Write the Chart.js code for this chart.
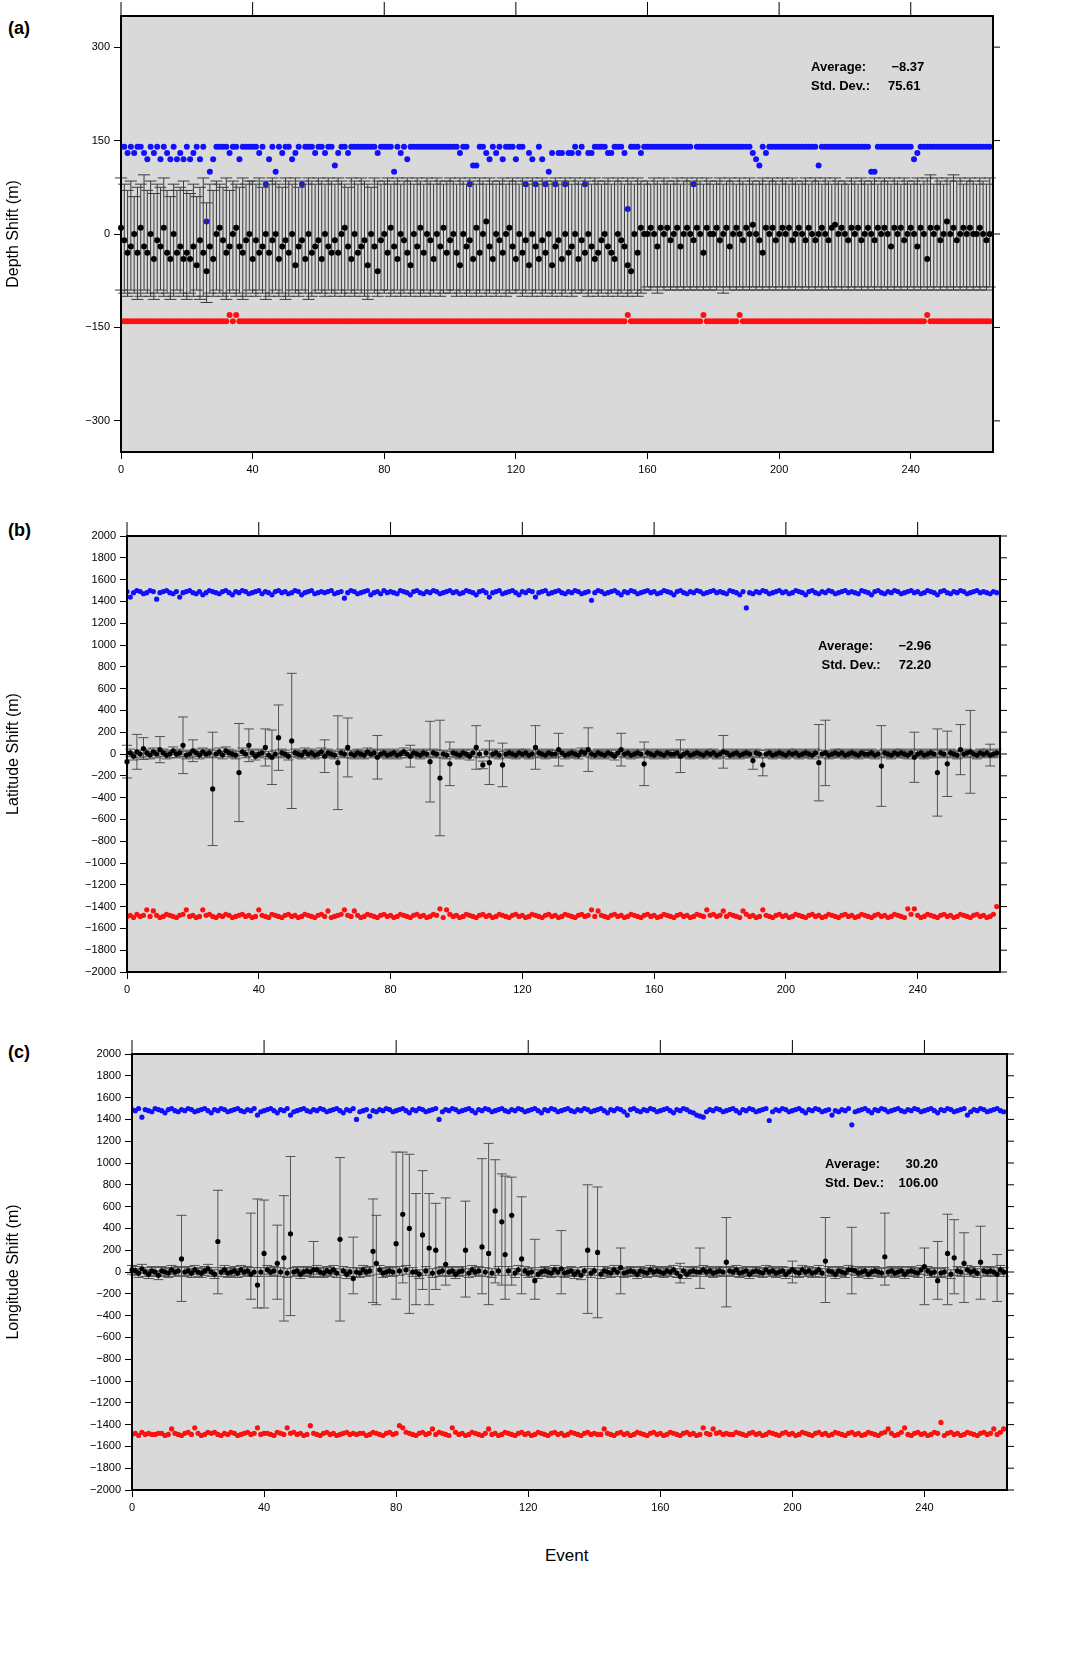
<!DOCTYPE html>
<html>
<head>
<meta charset="utf-8">
<script src="https://cdn.jsdelivr.net/npm/chart.js@4.4.1/dist/chart.umd.min.js"></script>
<style>
  body { margin: 0; background: #fff; font-family: "Liberation Sans", Arial, sans-serif; }
  .panel { position: absolute; left: 0; width: 1074px; height: 495px; }
  .lbl { position: absolute; font-weight: bold; font-size: 18px; }
  .stat { position: absolute; font-weight: bold; font-size: 13px; line-height: 19px; white-space: pre; }
</style>
</head>
<body>
<div class="lbl" style="left:8px;top:18px">(a)</div>
<div class="lbl" style="left:8px;top:520px">(b)</div>
<div class="lbl" style="left:8px;top:1042px">(c)</div>
<div class="panel" style="top:0"><canvas id="chartA"></canvas></div>
<div class="panel" style="top:520px"><canvas id="chartB"></canvas></div>
<div class="panel" style="top:1038px"><canvas id="chartC"></canvas></div>
<div class="stat" style="left:811px;top:57px">Average:       −8.37
Std. Dev.:     75.61</div>
<div class="stat" style="left:818px;top:636px">Average:       −2.96
 Std. Dev.:     72.20</div>
<div class="stat" style="left:825px;top:1154px">Average:       30.20
Std. Dev.:    106.00</div>
<div style="position:absolute;left:545px;top:1546px;font-size:17px">Event</div>
<script>
// ---------- panel (a) depth ----------
const blueA = [
140,140,130,140,130,140,140,130,120,140,130,140,120,140,130,120,140,120,130,120,
140,120,130,140,120,140,20,100,120,140,140,140,140,130,140,140,120,140,140,140,
140,140,130,140,80,120,140,100,140,130,140,140,120,130,140,80,140,140,140,130,
140,140,130,140,140,110,130,140,140,130,140,140,140,140,140,140,140,140,130,140,
140,140,140,100,140,130,140,120,140,140,140,140,140,140,140,140,140,140,140,140,
140,140,140,130,140,140,80,110,110,140,140,130,120,140,130,140,120,140,140,140,
120,140,140,80,130,120,80,140,120,80,100,130,80,130,130,80,130,130,140,130,
140,80,130,130,140,140,140,140,130,130,140,140,140,130,40,140,140,140,130,140,
140,140,140,140,140,140,140,140,140,140,140,140,140,140,80,140,140,140,140,140,
140,140,140,140,140,140,140,140,140,140,140,140,130,120,110,140,130,140,140,140,
140,140,140,140,140,140,140,140,140,140,140,140,110,140,140,140,140,140,140,140,
140,140,140,140,140,140,140,140,100,100,140,140,140,140,140,140,140,140,140,140,
140,120,130,140,140,140,140,140,140,140,140,140,140,140,140,140,140,140,140,140,
140,140,140,140,140];
const redA = [
-140,-140,-140,-140,-140,-140,-140,-140,-140,-140,-140,-140,-140,-140,-140,-140,-140,-140,-140,-140,
-140,-140,-140,-140,-140,-140,-140,-140,-140,-140,-140,-140,-140,-130,-140,-130,-140,-140,-140,-140,
-140,-140,-140,-140,-140,-140,-140,-140,-140,-140,-140,-140,-140,-140,-140,-140,-140,-140,-140,-140,
-140,-140,-140,-140,-140,-140,-140,-140,-140,-140,-140,-140,-140,-140,-140,-140,-140,-140,-140,-140,
-140,-140,-140,-140,-140,-140,-140,-140,-140,-140,-140,-140,-140,-140,-140,-140,-140,-140,-140,-140,
-140,-140,-140,-140,-140,-140,-140,-140,-140,-140,-140,-140,-140,-140,-140,-140,-140,-140,-140,-140,
-140,-140,-140,-140,-140,-140,-140,-140,-140,-140,-140,-140,-140,-140,-140,-140,-140,-140,-140,-140,
-140,-140,-140,-140,-140,-140,-140,-140,-140,-140,-140,-140,-140,-140,-130,-140,-140,-140,-140,-140,
-140,-140,-140,-140,-140,-140,-140,-140,-140,-140,-140,-140,-140,-140,-140,-140,-140,-130,-140,-140,
-140,-140,-140,-140,-140,-140,-140,-140,-130,-140,-140,-140,-140,-140,-140,-140,-140,-140,-140,-140,
-140,-140,-140,-140,-140,-140,-140,-140,-140,-140,-140,-140,-140,-140,-140,-140,-140,-140,-140,-140,
-140,-140,-140,-140,-140,-140,-140,-140,-140,-140,-140,-140,-140,-140,-140,-140,-140,-140,-140,-140,
-140,-140,-140,-140,-140,-130,-140,-140,-140,-140,-140,-140,-140,-140,-140,-140,-140,-140,-140,-140,
-140,-140,-140,-140,-140];
const blackA = [
10,-10,-30,-20,0,-30,10,-20,-30,0,-40,-10,-20,10,-30,-40,0,-30,-20,-40,
-30,-40,-20,-50,-10,-30,-60,-20,-40,0,10,-10,-30,-20,0,10,-20,-30,-10,0,
-40,-10,-30,-20,0,-30,-10,0,-40,-20,-10,-30,0,-50,-20,-10,-40,0,-30,-20,
-10,-40,0,-20,-30,-10,-30,0,10,-20,-40,0,-30,-20,-10,-50,0,-20,-60,-10,
0,-30,10,-20,-40,0,-10,-30,-50,0,-20,10,-30,0,-10,-40,0,-20,10,-30,
-10,0,-30,-50,0,-20,-10,-40,10,-30,0,20,-20,-40,0,-10,-30,0,10,-20,
-40,0,-30,-10,-50,0,-20,-40,-10,-30,0,-50,-20,-10,-40,0,-30,-20,0,-40,
-10,-30,0,-20,-40,-30,-10,0,-20,-30,-40,0,-10,-20,-50,-60,0,-30,10,0,
0,10,0,-20,10,0,10,-10,0,10,-20,0,10,0,-10,10,0,-30,10,0,
0,10,-10,0,10,-20,0,10,0,-10,10,0,15,0,-10,-30,10,0,10,-10,
0,10,0,10,-10,0,10,0,-10,10,0,-10,0,10,0,-10,10,15,0,10,
0,-10,10,0,10,-10,0,10,0,-10,10,0,10,0,-20,10,0,10,-10,0,
10,0,-20,10,0,-40,10,0,10,-10,0,20,0,10,-10,0,10,0,10,0,
0,10,0,-10,0];
const errHiA = [
90,80,70,85,60,75,80,95,70,85,65,80,75,90,70,60,80,70,75,85,
70,65,80,60,75,90,50,80,70,85,80,75,90,70,85,80,75,90,80,85,
85,80,90,75,85,80,90,85,80,75,90,85,80,90,75,85,80,90,85,80,
90,85,80,90,85,80,90,85,80,75,90,85,80,90,85,80,75,90,85,80,
85,90,80,85,90,80,85,90,85,80,90,85,80,90,85,80,90,85,80,85,
90,85,80,90,85,80,90,85,80,90,85,80,90,85,80,85,90,80,85,90,
85,80,90,85,80,90,85,80,90,85,80,85,90,80,85,90,85,80,90,85,
80,90,85,80,90,85,80,85,90,80,85,90,85,80,90,85,80,90,85,80,
85,80,90,85,80,90,85,80,85,90,80,85,90,85,80,90,85,80,90,85,
80,85,90,80,85,90,85,80,90,85,80,90,85,80,85,90,80,85,90,85,
80,90,85,80,90,85,80,85,90,80,85,90,85,80,90,85,80,90,85,80,
85,80,90,85,80,90,85,80,85,90,80,85,90,85,80,90,85,80,90,85,
80,85,90,80,85,90,95,80,90,85,80,90,85,95,85,90,80,85,90,85,
80,90,85,80,90];
const errLoA = [
-90,-95,-100,-90,-95,-105,-100,-90,-95,-100,-105,-95,-90,-100,-95,-105,-100,-90,-95,-100,
-105,-95,-100,-90,-105,-100,-110,-95,-100,-90,-95,-100,-105,-95,-90,-100,-95,-105,-100,-90,
-95,-100,-90,-95,-105,-100,-95,-90,-100,-95,-105,-100,-90,-95,-100,-90,-95,-105,-100,-95,
-90,-95,-100,-90,-95,-100,-90,-95,-100,-90,-95,-100,-90,-95,-100,-105,-90,-95,-100,-90,
-95,-90,-100,-95,-90,-100,-95,-90,-100,-95,-90,-100,-95,-90,-100,-95,-90,-100,-95,-90,
-95,-90,-100,-95,-90,-100,-95,-90,-100,-95,-90,-100,-95,-90,-100,-95,-90,-100,-95,-90,
-95,-90,-100,-95,-90,-100,-95,-90,-100,-95,-90,-100,-95,-90,-100,-95,-90,-100,-95,-90,
-95,-90,-100,-95,-90,-100,-95,-90,-100,-95,-90,-100,-95,-90,-100,-95,-90,-100,-95,-90,
-85,-90,-85,-95,-85,-90,-85,-90,-85,-90,-85,-90,-85,-90,-85,-90,-85,-90,-85,-90,
-85,-90,-85,-95,-85,-90,-85,-90,-85,-90,-85,-90,-85,-90,-85,-90,-85,-90,-85,-90,
-85,-90,-85,-90,-85,-90,-85,-90,-85,-90,-85,-90,-85,-90,-85,-90,-85,-90,-85,-90,
-85,-90,-85,-90,-85,-90,-85,-90,-85,-90,-85,-90,-85,-90,-85,-90,-85,-90,-85,-90,
-85,-90,-85,-90,-85,-90,-85,-90,-85,-90,-85,-90,-85,-90,-85,-90,-85,-90,-85,-90,
-85,-90,-85,-90,-85];

// ---------- panel (b) latitude ----------
const blueB = [
1490,1440,1480,1500,1490,1470,1480,1500,1490,1420,1480,1490,1500,1480,1470,1490,1440,1480,1490,1500,
1480,1470,1490,1460,1480,1500,1490,1480,1470,1490,1500,1480,1460,1490,1480,1500,1490,1470,1480,1490,
1500,1470,1490,1480,1460,1490,1500,1480,1490,1470,1480,1500,1490,1460,1480,1490,1500,1470,1480,1490,
1480,1490,1500,1470,1480,1490,1430,1480,1500,1490,1470,1480,1490,1500,1460,1480,1490,1470,1500,1480,
1490,1480,1470,1500,1490,1480,1460,1490,1500,1480,1470,1490,1480,1500,1490,1470,1480,1490,1500,1480,
1490,1470,1480,1500,1490,1480,1460,1490,1500,1480,1440,1480,1490,1500,1470,1480,1490,1500,1480,1460,
1490,1480,1500,1490,1440,1480,1490,1500,1470,1480,1490,1500,1480,1470,1490,1480,1500,1490,1470,1480,
1490,1410,1480,1500,1490,1470,1480,1490,1500,1480,1460,1490,1480,1500,1490,1470,1480,1490,1500,1480,
1490,1470,1480,1500,1490,1480,1460,1490,1500,1480,1470,1490,1480,1500,1490,1470,1480,1490,1500,1480,
1490,1480,1470,1500,1490,1480,1460,1490,1340,1480,1470,1490,1480,1500,1490,1470,1480,1490,1500,1480,
1490,1470,1480,1500,1490,1480,1460,1490,1500,1480,1470,1490,1480,1500,1490,1470,1480,1490,1500,1480,
1490,1480,1470,1500,1490,1480,1460,1490,1500,1480,1470,1490,1480,1500,1490,1470,1480,1490,1500,1480,
1490,1470,1480,1500,1490,1480,1460,1490,1500,1480,1470,1490,1480,1500,1490,1470,1480,1490,1500,1480,
1490,1480,1470,1490,1480];
const redB = [
-1490,-1480,-1500,-1470,-1490,-1480,-1430,-1490,-1440,-1480,-1500,-1490,-1470,-1480,-1490,-1500,-1480,-1470,-1430,-1490,
-1480,-1500,-1490,-1430,-1480,-1470,-1490,-1500,-1480,-1490,-1470,-1480,-1500,-1490,-1480,-1470,-1490,-1480,-1500,-1490,
-1430,-1480,-1490,-1500,-1470,-1480,-1490,-1500,-1480,-1470,-1490,-1480,-1500,-1490,-1470,-1480,-1490,-1500,-1480,-1470,
-1490,-1440,-1500,-1490,-1480,-1470,-1430,-1480,-1490,-1440,-1480,-1500,-1490,-1470,-1480,-1490,-1500,-1480,-1470,-1490,
-1480,-1500,-1490,-1470,-1480,-1490,-1500,-1480,-1470,-1490,-1480,-1500,-1490,-1470,-1480,-1420,-1500,-1430,-1470,-1490,
-1480,-1500,-1490,-1470,-1480,-1490,-1500,-1480,-1470,-1490,-1480,-1500,-1490,-1470,-1480,-1490,-1500,-1480,-1470,-1490,
-1480,-1500,-1490,-1470,-1480,-1490,-1500,-1480,-1470,-1490,-1480,-1500,-1490,-1470,-1480,-1490,-1500,-1480,-1470,-1490,
-1480,-1430,-1490,-1440,-1480,-1490,-1500,-1480,-1470,-1490,-1480,-1500,-1490,-1470,-1480,-1490,-1500,-1480,-1470,-1490,
-1480,-1500,-1490,-1470,-1480,-1490,-1500,-1480,-1470,-1490,-1480,-1500,-1490,-1470,-1480,-1490,-1430,-1480,-1470,-1490,
-1480,-1440,-1490,-1470,-1480,-1490,-1500,-1440,-1470,-1490,-1480,-1500,-1490,-1430,-1480,-1490,-1500,-1480,-1470,-1490,
-1480,-1500,-1490,-1470,-1480,-1490,-1500,-1480,-1470,-1490,-1480,-1500,-1490,-1470,-1480,-1490,-1500,-1480,-1470,-1490,
-1480,-1500,-1490,-1470,-1480,-1490,-1500,-1480,-1470,-1490,-1480,-1500,-1490,-1470,-1480,-1490,-1500,-1420,-1470,-1420,
-1480,-1500,-1490,-1470,-1480,-1490,-1500,-1480,-1470,-1490,-1480,-1500,-1490,-1470,-1480,-1490,-1500,-1480,-1470,-1490,
-1480,-1500,-1490,-1470,-1400];
const blackB = [
-70,10,-20,20,0,50,10,-10,20,0,40,10,-10,0,30,0,10,80,-10,0,
30,10,-10,20,0,10,-320,0,20,-10,30,10,0,-10,-170,20,0,80,10,-20,
0,10,60,-10,-30,0,150,10,0,-20,120,10,0,-10,20,0,10,-10,0,20,
-20,10,0,-10,-80,10,0,60,0,-10,10,0,-10,20,0,10,-30,0,10,-10,
0,10,-10,0,20,0,-20,10,0,-10,10,0,-70,10,0,-220,0,-10,-90,10,
0,-10,10,0,-20,10,60,0,-100,10,-80,0,10,-10,-100,0,10,0,-10,10,
0,10,-10,0,60,10,0,-10,10,0,0,40,10,-10,0,10,0,-10,20,10,
40,0,-10,10,0,-10,10,0,-20,10,40,0,10,-10,0,10,0,-90,10,0,
-10,10,0,-10,10,0,0,10,-20,0,10,-10,0,10,0,-10,10,0,10,-10,
0,20,10,-10,0,10,-10,0,10,0,-60,10,0,-100,0,10,-10,0,10,0,
-10,10,0,10,-10,0,10,0,-10,10,-80,0,10,-10,0,10,0,10,-10,0,
10,0,-10,10,0,0,10,-10,0,-110,10,0,-10,10,0,10,0,-10,10,-30,
0,10,-10,0,10,0,-170,10,0,-90,10,0,-10,40,0,10,20,0,-10,10,
0,10,-10,0,10];
// large error bars: [event, half width]; others are small
const bigErrB = [[0,150],[3,160],[5,100],[10,120],[17,260],[20,100],[26,520],[34,450],[37,150],[42,170],
  [44,250],[46,300],[50,620],[60,150],[64,430],[67,270],[76,200],[86,100],[92,370],[95,530],[98,200],
  [106,200],[110,200],[114,200],[124,200],[131,150],[140,200],[150,150],[157,200],[168,150],[181,150],
  [190,80],[193,100],[210,350],[212,300],[229,370],[239,230],[246,400],[249,300],[253,230],[256,380],[262,100]];
const smallErrB = 35;

// ---------- panel (c) longitude ----------
const blueC = [
1490,1480,1500,1420,1490,1480,1470,1500,1490,1480,1460,1490,1500,1480,1470,1490,1480,1500,1490,1470,
1480,1490,1500,1480,1460,1490,1480,1500,1490,1470,1480,1490,1500,1480,1470,1490,1480,1500,1440,1470,
1480,1490,1500,1480,1460,1490,1480,1500,1440,1470,1480,1490,1500,1480,1470,1490,1480,1500,1490,1470,
1480,1490,1500,1480,1460,1490,1480,1500,1400,1470,1480,1490,1430,1480,1470,1490,1480,1500,1490,1470,
1480,1490,1500,1480,1460,1490,1480,1500,1490,1470,1480,1490,1500,1400,1470,1490,1480,1500,1490,1470,
1480,1490,1500,1480,1460,1490,1480,1500,1490,1470,1480,1490,1500,1480,1470,1490,1480,1500,1490,1470,
1480,1490,1500,1480,1460,1490,1480,1500,1490,1470,1480,1490,1500,1480,1470,1490,1480,1500,1490,1470,
1480,1490,1500,1480,1460,1490,1480,1500,1490,1470,1440,1490,1500,1480,1470,1490,1480,1500,1490,1470,
1480,1490,1500,1480,1460,1490,1480,1500,1490,1470,1460,1440,1430,1420,1470,1490,1480,1500,1490,1470,
1480,1490,1500,1480,1460,1490,1480,1500,1490,1470,1480,1490,1500,1390,1470,1490,1480,1500,1490,1470,
1480,1490,1500,1480,1460,1490,1480,1500,1490,1470,1480,1490,1440,1480,1470,1490,1480,1500,1350,1470,
1480,1490,1500,1480,1460,1490,1480,1500,1490,1470,1480,1490,1500,1480,1470,1490,1480,1500,1490,1470,
1480,1490,1500,1480,1460,1490,1480,1500,1490,1470,1480,1490,1500,1440,1470,1490,1480,1500,1490,1470,
1480,1490,1500,1480,1470];
const redC = [
-1490,-1480,-1500,-1470,-1490,-1480,-1490,-1490,-1480,-1480,-1500,-1490,-1440,-1480,-1490,-1500,-1480,-1470,-1490,-1430,
-1480,-1500,-1490,-1470,-1480,-1470,-1490,-1500,-1480,-1490,-1470,-1480,-1500,-1490,-1480,-1470,-1490,-1480,-1430,-1490,
-1480,-1480,-1490,-1500,-1470,-1480,-1490,-1430,-1480,-1470,-1490,-1480,-1500,-1490,-1410,-1480,-1490,-1500,-1480,-1470,
-1490,-1480,-1500,-1490,-1480,-1470,-1490,-1480,-1490,-1480,-1480,-1500,-1490,-1470,-1480,-1490,-1500,-1480,-1470,-1490,
-1480,-1410,-1430,-1470,-1480,-1490,-1500,-1480,-1470,-1490,-1480,-1440,-1490,-1470,-1480,-1490,-1500,-1430,-1470,-1490,
-1480,-1500,-1490,-1470,-1480,-1490,-1500,-1480,-1440,-1490,-1480,-1500,-1490,-1470,-1480,-1490,-1500,-1480,-1470,-1490,
-1480,-1500,-1490,-1470,-1480,-1490,-1500,-1480,-1470,-1490,-1480,-1500,-1490,-1470,-1480,-1490,-1500,-1480,-1470,-1490,
-1480,-1490,-1490,-1440,-1480,-1490,-1500,-1480,-1470,-1490,-1480,-1500,-1490,-1470,-1480,-1490,-1500,-1480,-1470,-1490,
-1480,-1500,-1490,-1470,-1480,-1490,-1500,-1480,-1470,-1490,-1480,-1500,-1490,-1430,-1480,-1490,-1440,-1480,-1470,-1490,
-1480,-1490,-1490,-1470,-1480,-1490,-1500,-1480,-1470,-1490,-1480,-1500,-1490,-1470,-1480,-1490,-1500,-1480,-1470,-1490,
-1480,-1500,-1490,-1470,-1480,-1490,-1500,-1480,-1470,-1490,-1480,-1500,-1490,-1470,-1480,-1490,-1500,-1480,-1470,-1490,
-1480,-1500,-1490,-1470,-1480,-1490,-1500,-1480,-1470,-1440,-1480,-1500,-1490,-1470,-1430,-1490,-1500,-1480,-1470,-1490,
-1480,-1500,-1490,-1470,-1480,-1380,-1500,-1480,-1470,-1490,-1480,-1500,-1490,-1470,-1480,-1490,-1500,-1480,-1470,-1490,
-1480,-1440,-1490,-1470,-1440];
const baseC = [
20,10,-10,30,0,-20,10,0,-30,10,0,-10,20,0,10,-20,0,10,-10,20,
0,-10,10,30,0,-20,10,0,20,-10,0,10,-10,20,0,10,-20,0,10,0,
-10,20,0,10,-30,0,10,-10,20,0,10,-20,0,10,0,-10,20,0,-10,10,
0,20,-10,0,10,-20,0,10,0,-10,20,0,10,-10,0,20,-10,0,10,0,
-10,10,0,20,-10,0,10,-20,0,10,0,-10,20,0,10,-10,0,10,-20,0,
10,0,-10,20,0,10,-10,0,20,-10,0,10,0,-20,10,0,-10,20,0,10,
-10,0,10,-20,0,10,0,-10,20,0,10,-10,0,10,-20,0,-30,10,0,-10,
10,0,-20,10,0,-10,20,0,10,-10,0,10,0,-20,10,0,-10,20,0,10,
0,-10,10,0,20,-10,0,10,-20,0,10,0,-10,20,0,10,-10,0,10,0,
-10,10,0,20,-10,0,10,-20,0,10,0,-10,20,0,10,-10,0,10,-20,0,
10,0,-10,20,0,10,-10,0,20,-10,0,10,0,-20,10,0,-10,20,0,10,
-10,0,10,-20,0,10,0,-10,20,0,10,-10,0,10,-20,0,10,0,-10,20,
0,10,-10,0,20,-10,0,10,-20,0,10,0,-10,20,0,10,-10,0,10,0,
10,0,-10,20,0];
// outlying events: [event, value, bar low, bar high]
const outC = [[15,120,-270,520],[26,280,-200,750],[36,-20,-250,540],[38,-120,-330,670],[40,170,-330,660],
  [44,80,-250,430],[46,130,-450,700],[48,350,-400,1060],[55,20,-50,280],[63,300,-450,1050],[67,-60,-200,320],
  [73,190,-280,670],[74,80,-300,520],[80,260,-250,1100],[82,530,-100,1100],[84,400,-380,1080],[86,0,-300,720],
  [88,340,-160,930],[90,220,-300,720],[92,200,-160,630],[95,70,-120,680],[101,200,-230,650],[106,230,-200,1040],
  [108,170,-300,1180],[110,560,-100,1030],[112,460,-120,900],[113,160,-250,880],[115,520,-120,870],
  [118,120,-200,690],[122,-80,-250,300],[130,30,-200,380],[138,200,-380,800],[141,180,-420,780],[148,40,-200,220],
  [166,-40,-100,80],[172,0,-150,220],[180,90,-320,500],[200,20,-100,100],[210,100,-280,500],[218,20,-200,410],
  [228,140,-120,540],[240,50,-300,220],[244,-80,-250,280],[247,170,-300,530],[249,130,-200,480],
  [252,80,-280,360],[257,90,-250,420],[262,-20,-270,160]];
const smallErrC = 40;

const xTicks = [0, 40, 80, 120, 160, 200, 240];

// ---------- build tables ----------
function pts(arr) { return arr.map((v, i) => ({ x: i, y: v })); }

const barsA = blackA.map((v, i) => [errLoA[i], errHiA[i]]);
const barsB = blackB.map((v, i) => [v - smallErrB, v + smallErrB]);
bigErrB.forEach(([i, h]) => { barsB[i] = [blackB[i] - h, blackB[i] + h]; });
const blackC = baseC.slice();
const barsC = baseC.map(v => [v - smallErrC, v + smallErrC]);
outC.forEach(([i, v, lo, hi]) => { blackC[i] = v; barsC[i] = [lo, hi]; });

const frame = {
  id: 'frame',
  beforeDraw(chart) {
    const a = chart.chartArea, ctx = chart.ctx;
    ctx.save();
    ctx.fillStyle = '#d9d9d9';
    ctx.fillRect(a.left, a.top, a.right - a.left, a.bottom - a.top);
    ctx.restore();
  },
  afterDatasetsDraw(chart, args, opts) {
    const a = chart.chartArea, ctx = chart.ctx;
    const xs = chart.scales.x, ys = chart.scales.y;
    ctx.save();
    // error bars
    ctx.strokeStyle = opts.barColor;
    ctx.lineWidth = opts.barWidth;
    const cap = opts.cap;
    opts.bars.forEach((b, i) => {
      const px = xs.getPixelForValue(i);
      const p1 = ys.getPixelForValue(b[0]), p2 = ys.getPixelForValue(b[1]);
      ctx.beginPath();
      ctx.moveTo(px, p1); ctx.lineTo(px, p2);
      ctx.moveTo(px - cap, p1); ctx.lineTo(px + cap, p1);
      ctx.moveTo(px - cap, p2); ctx.lineTo(px + cap, p2);
      ctx.stroke();
    });
    // black points on top of bars
    ctx.fillStyle = '#000';
    opts.black.forEach((v, i) => {
      ctx.beginPath();
      ctx.arc(xs.getPixelForValue(i), ys.getPixelForValue(v), opts.r, 0, Math.PI * 2);
      ctx.fill();
    });
    // top and right ticks
    ctx.strokeStyle = '#000';
    ctx.lineWidth = 1;
    xTicks.forEach(t => {
      const px = xs.getPixelForValue(t);
      ctx.beginPath(); ctx.moveTo(px, a.top); ctx.lineTo(px, a.top - 14); ctx.stroke();
    });
    ys.ticks.forEach(t => {
      const py = ys.getPixelForValue(t.value);
      ctx.beginPath(); ctx.moveTo(a.right, py); ctx.lineTo(a.right + 7, py); ctx.stroke();
    });
    ctx.lineWidth = 2;
    ctx.strokeRect(a.left, a.top, a.right - a.left, a.bottom - a.top);
    ctx.restore();
  }
};

function makeChart(id, cfg) {
  new Chart(document.getElementById(id), {
    type: 'scatter',
    data: {
      datasets: [
        { data: pts(cfg.blue), backgroundColor: '#1010ff', borderWidth: 0, pointRadius: cfg.r },
        { data: pts(cfg.red), backgroundColor: '#ff1010', borderWidth: 0, pointRadius: cfg.r }
      ]
    },
    options: {
      responsive: true,
      maintainAspectRatio: false,
      animation: false,
      layout: { padding: { top: 16, right: cfg.right, bottom: 3, left: 0 } },
      plugins: {
        legend: { display: false },
        tooltip: { enabled: false },
        frame: { bars: cfg.bars, black: cfg.black, cap: cfg.cap, r: cfg.r,
          barColor: cfg.barColor, barWidth: cfg.barWidth }
      },
      scales: {
        x: {
          min: 0, max: 265,
          afterBuildTicks: s => { s.ticks = xTicks.map(v => ({ value: v })); },
          ticks: { color: '#000', font: { size: 11 }, padding: 4 },
          grid: { display: true, drawOnChartArea: false, tickLength: 7, color: '#000' },
          border: { display: false },
          afterFit: s => { s.height = 40; }
        },
        y: {
          min: cfg.min, max: cfg.max,
          afterBuildTicks: s => { s.ticks = cfg.yTicks.map(v => ({ value: v })); },
          ticks: { color: '#000', font: { size: 11 }, padding: 4,
            callback: v => String(v).replace('-', '\u2212') },
          grid: { display: true, drawOnChartArea: false, tickLength: 7, color: '#000' },
          border: { display: false },
          title: { display: true, text: cfg.title, color: '#000', font: { size: 16 } },
          afterFit: s => { s.width = cfg.left; }
        }
      }
    },
    plugins: [frame]
  });
}

const ticksA = [-300, -150, 0, 150, 300];
const ticksBC = [];
for (let v = -2000; v <= 2000; v += 200) ticksBC.push(v);

makeChart('chartA', { blue: blueA, red: redA, black: blackA, bars: barsA, cap: 6, r: 3,
  barColor: '#3a3a3a', barWidth: 1,
  min: -350, max: 350, yTicks: ticksA, title: 'Depth Shift (m)', left: 121, right: 81 });
makeChart('chartB', { blue: blueB, red: redB, black: blackB, bars: barsB, cap: 5, r: 2.6,
  barColor: '#444', barWidth: 0.9,
  min: -2000, max: 2000, yTicks: ticksBC, title: 'Latitude Shift (m)', left: 127, right: 74 });
makeChart('chartC', { blue: blueC, red: redC, black: blackC, bars: barsC, cap: 5, r: 2.6,
  barColor: '#444', barWidth: 0.9,
  min: -2000, max: 2000, yTicks: ticksBC, title: 'Longitude Shift (m)', left: 132, right: 67 });
</script>
</body>
</html>
